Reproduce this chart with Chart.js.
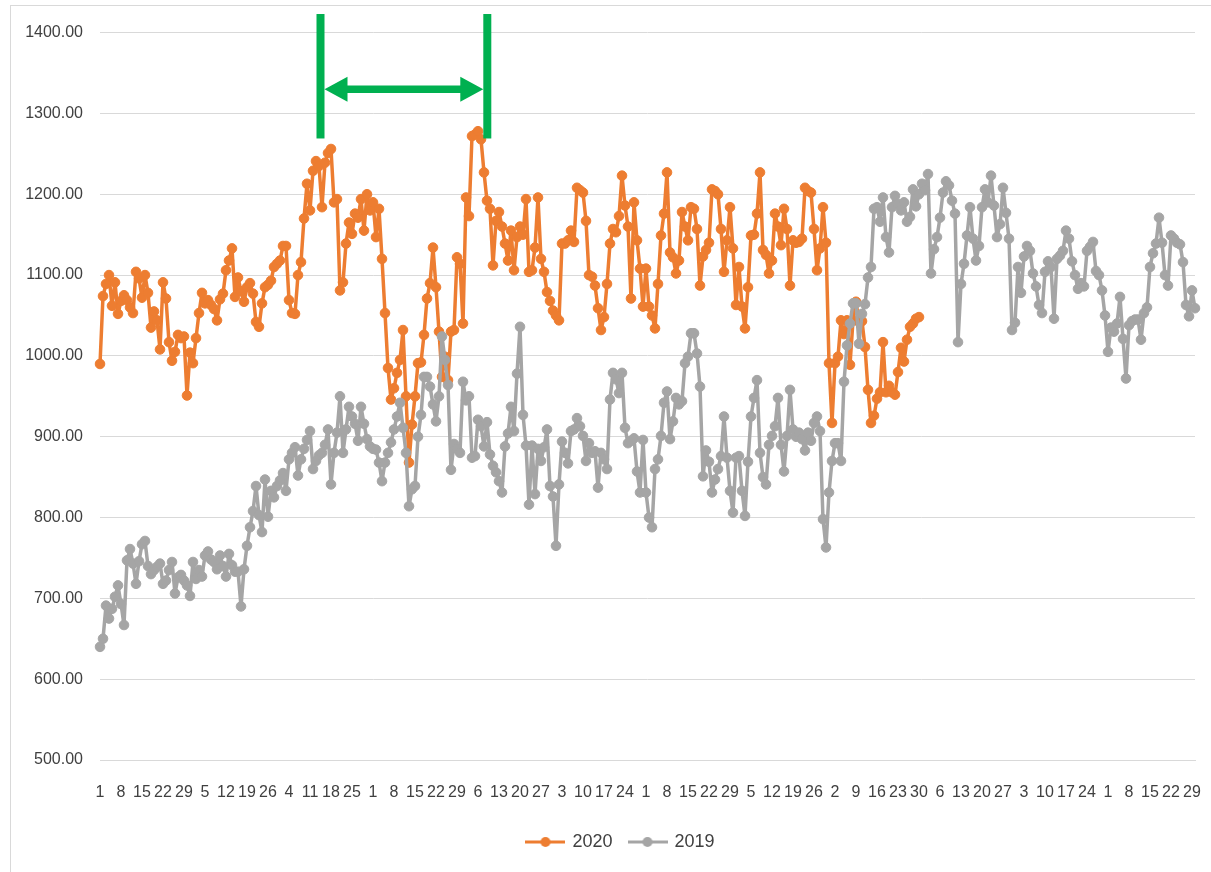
<!DOCTYPE html>
<html>
<head>
<meta charset="utf-8">
<script src="https://cdn.jsdelivr.net/npm/chart.js@4/dist/chart.umd.min.js"></script>
<style>
  html, body { margin: 0; padding: 0; background: #fff; overflow: hidden; }
  #frame { position: absolute; left: 10px; top: 5px; width: 1230px; height: 900px; border: 1px solid #d9d9d9; box-sizing: border-box; }
  #c { position: absolute; left: 11px; top: 6px; }
</style>
</head>
<body>
<div id="frame"></div>
<canvas id="c" width="1218" height="866"></canvas>
<script>
// Week tick labels (every 7th day)
const tickLabels = ["1","8","15","22","29","5","12","19","26","4","11","18","25","1","8","15","22","29","6","13","20","27","3","10","17","24","1","8","15","22","29","5","12","19","26","2","9","16","23","30","6","13","20","27","3","10","17","24","1","8","15","22","29"];
const dayCount = 366;
const categories = Array.from({length: dayCount}, (_, i) => (i % 7 === 0 ? (tickLabels[i / 7] || '') : ''));

const seriesNames = ["2020", "2019"];

const values2020 = [
  990,1074,1089,1100,1062,1091,1052,1068,1075,1069,
  1060,1053,1104,1096,1072,1100,1078,1035,1055,1044,
  1008,1091,1071,1017,994,1005,1026,1022,1024,951,
  1004,991,1022,1053,1078,1065,1069,1063,1058,1044,
  1070,1077,1106,1118,1133,1073,1097,1080,1067,1085,
  1090,1077,1042,1036,1065,1085,1088,1093,1110,1114,
  1118,1136,1136,1069,1053,1052,1100,1116,1170,1213,
  1180,1229,1241,1235,1184,1239,1251,1256,1190,1194,
  1081,1091,1139,1165,1151,1176,1171,1194,1155,1200,
  1180,1190,1147,1182,1120,1053,985,946,960,979,
  995,1032,950,868,915,950,991,992,1026,1071,
  1090,1134,1085,1030,974,999,970,1030,1032,1122,
  1114,1040,1196,1173,1272,1274,1278,1268,1227,1192,
  1182,1112,1167,1178,1160,1139,1118,1155,1106,1147,
  1160,1150,1194,1104,1106,1134,1196,1120,1104,1079,
  1068,1056,1050,1044,1139,1139,1143,1155,1141,1208,
  1205,1202,1167,1100,1098,1087,1059,1032,1048,1089,
  1139,1157,1153,1173,1223,1186,1160,1071,1190,1143,
  1108,1061,1108,1061,1050,1034,1089,1149,1176,1227,
  1128,1122,1102,1118,1178,1160,1143,1184,1182,1157,
  1087,1123,1131,1140,1206,1204,1200,1157,1104,1143,
  1184,1133,1063,1110,1061,1034,1085,1149,1150,1176,
  1227,1131,1125,1102,1118,1176,1160,1137,1182,1157,
  1087,1143,1140,1141,1145,1208,1204,1202,1157,1106,
  1133,1184,1140,991,917,991,999,1044,1027,1044,
  989,1044,1067,1042,1043,1011,958,917,926,947,
  955,1017,955,963,955,952,980,1010,993,1020,
  1036,1040,1046,1048
];

const values2019 = [
  640,650,691,675,687,702,716,693,667,747,
  761,743,718,746,767,771,740,730,735,739,
  743,718,722,735,745,706,726,729,722,716,
  703,745,724,735,727,753,758,748,745,736,
  753,740,727,755,741,733,733,690,736,765,
  788,808,839,803,782,847,801,833,825,839,
  846,855,833,872,880,887,852,872,885,896,
  907,860,870,877,880,890,909,841,880,905,
  950,880,909,937,925,916,895,937,916,897,
  888,885,884,868,845,868,880,893,909,925,
  942,911,880,814,835,839,900,927,974,974,
  962,940,919,950,1024,995,964,859,891,885,
  880,968,945,950,874,876,921,913,888,918,
  878,864,856,845,831,888,904,937,907,978,
  1036,927,889,816,889,829,885,870,887,909,
  839,826,765,841,894,880,867,907,909,923,
  913,901,870,892,880,882,837,880,872,860,
  946,979,971,954,979,911,892,895,898,857,
  831,896,831,800,788,860,872,901,942,956,
  897,919,948,940,944,991,999,1028,1028,1003,
  962,851,883,869,831,847,860,876,925,874,
  833,806,874,876,833,802,869,925,948,970,
  880,850,841,890,901,913,948,890,857,901,
  958,909,900,905,897,883,905,895,917,925,
  907,798,763,831,870,892,892,870,968,1013,
  1040,1065,1065,1015,1052,1064,1097,1110,1182,1184,
  1166,1196,1147,1128,1184,1198,1188,1180,1190,1166,
  1172,1206,1185,1200,1213,1205,1225,1102,1132,1147,
  1171,1202,1216,1211,1192,1176,1017,1089,1114,1149,
  1184,1145,1118,1136,1184,1206,1190,1223,1186,1147,
  1163,1208,1177,1145,1032,1041,1110,1078,1123,1136,
  1130,1102,1086,1063,1053,1104,1117,1110,1046,1120,
  1124,1130,1155,1145,1117,1100,1083,1090,1086,1130,
  1135,1141,1105,1100,1081,1050,1005,1035,1030,1040,
  1073,1021,972,1038,1043,1045,1045,1020,1053,1060,
  1110,1127,1139,1171,1140,1100,1087,1149,1145,1140,
  1138,1116,1063,1049,1081,1059
];

// Annotation (in data units: category index / value)
const bracketIndexes = [73.5, 129.1];
const bracketValueRange = [1269, 1423];
const arrowValue = 1330;

const COLORS = { y2020: '#ED7D31', y2019: '#A5A5A5', green: '#00B050', text: '#404040', grid: '#D9D9D9' };

Chart.defaults.font.family = "'Liberation Sans', Arial, sans-serif";
Chart.defaults.color = COLORS.text;

function legendMark(color) {
  const c = document.createElement('canvas');
  c.width = 40; c.height = 12;
  const g = c.getContext('2d');
  g.strokeStyle = color; g.lineWidth = 3;
  g.beginPath(); g.moveTo(0, 6); g.lineTo(40, 6); g.stroke();
  g.fillStyle = color;
  g.beginPath(); g.arc(20, 6, 5, 0, Math.PI * 2); g.fill();
  return c;
}
const marks = [legendMark(COLORS.y2020), legendMark(COLORS.y2019)];

const legendShift = {
  id: 'legendShift',
  afterLayout(chart) {
    const l = chart.legend;
    if (l) { l.left += 18; l.right += 18; }
  }
};

const annotationPlugin = {
  id: 'bracket',
  afterDraw(chart) {
    const {ctx, scales: {x, y}} = chart;
    const xa = x.getPixelForValue(bracketIndexes[0]);
    const xb = x.getPixelForValue(bracketIndexes[1]);
    const yTop = y.getPixelForValue(bracketValueRange[1]);
    const yBot = y.getPixelForValue(bracketValueRange[0]);
    const ya = y.getPixelForValue(arrowValue);
    ctx.save();
    ctx.fillStyle = COLORS.green;
    const lw = 8;
    ctx.fillRect(xa - lw / 2, yTop, lw, yBot - yTop);
    ctx.fillRect(xb - lw / 2, yTop, lw, yBot - yTop);
    const l = xa + lw / 2, r = xb - lw / 2;
    const headL = 23, headH = 12.5, shaft = 3.8;
    ctx.beginPath();
    ctx.moveTo(l, ya);
    ctx.lineTo(l + headL, ya - headH);
    ctx.lineTo(l + headL, ya - shaft);
    ctx.lineTo(r - headL, ya - shaft);
    ctx.lineTo(r - headL, ya - headH);
    ctx.lineTo(r, ya);
    ctx.lineTo(r - headL, ya + headH);
    ctx.lineTo(r - headL, ya + shaft);
    ctx.lineTo(l + headL, ya + shaft);
    ctx.lineTo(l + headL, ya + headH);
    ctx.closePath();
    ctx.fill();
    ctx.restore();
  }
};

const lineStyle = (color, order) => ({
  borderColor: color, backgroundColor: color, borderWidth: 3.5,
  borderJoinStyle: 'round', borderCapStyle: 'round',
  pointRadius: 4.8, pointBorderWidth: 1, pointBackgroundColor: color, pointBorderColor: color,
  tension: 0, order
});

new Chart(document.getElementById('c'), {
  type: 'line',
  data: {
    labels: categories,
    datasets: [
      Object.assign({ label: seriesNames[0], data: values2020 }, lineStyle(COLORS.y2020, 1)),
      Object.assign({ label: seriesNames[1], data: values2019 }, lineStyle(COLORS.y2019, 0))
    ]
  },
  options: {
    responsive: false,
    animation: false,
    layout: { padding: { top: 25, right: 34, bottom: 11, left: 0 } },
    scales: {
      x: {
        offset: false,
        grid: { display: false, drawTicks: false },
        border: { display: true, color: COLORS.grid },
        ticks: { autoSkip: false, maxRotation: 0, minRotation: 0, padding: 23, font: { size: 16 }, color: COLORS.text },
        afterFit: (s) => { s.height = 56; }
      },
      y: {
        min: 500, max: 1400,
        grid: { color: COLORS.grid, drawTicks: false },
        border: { display: false },
        ticks: { stepSize: 100, padding: 17, font: { size: 16 }, color: COLORS.text,
          callback: (v) => Number(v).toFixed(2) },
        afterFit: (s) => { s.width = 89; }
      }
    },
    plugins: {
      tooltip: { enabled: false },
      legend: {
        position: 'bottom',
        labels: {
          usePointStyle: true,
          pointStyleWidth: 36,
          padding: 17,
          font: { size: 18 },
          color: COLORS.text,
          generateLabels: (chart) => chart.data.datasets.map((ds, i) => ({
            text: ds.label, pointStyle: marks[i], fillStyle: ds.borderColor, strokeStyle: ds.borderColor,
            lineWidth: 0, hidden: false, datasetIndex: i, fontColor: COLORS.text
          }))
        }
      }
    }
  },
  plugins: [annotationPlugin, legendShift]
});
</script>
</body>
</html>
